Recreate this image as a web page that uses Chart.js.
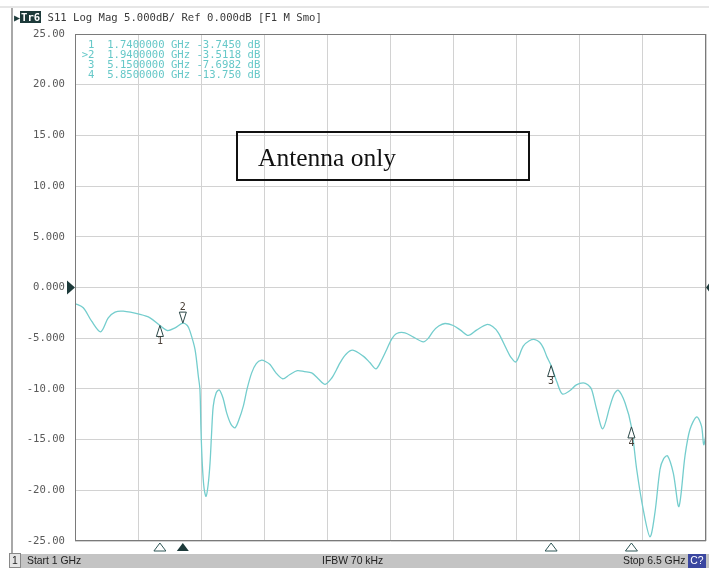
<!DOCTYPE html>
<html>
<head>
<meta charset="utf-8">
<script src="https://cdn.jsdelivr.net/npm/chart.js@4.4.1/dist/chart.umd.min.js"></script>
<style>
  body { margin: 0; background: #fff; width: 709px; height: 568px; overflow: hidden; position: relative; }
  #c { position: absolute; left: 0; top: 0; }
  .mono { position: absolute; font-family: 'DejaVu Sans Mono', monospace; font-size: 10.6px; white-space: pre; }
  #topline { position: absolute; left: 0; top: 6px; width: 709px; height: 2px; background: #e6e6e6; }
  #leftline { position: absolute; left: 11px; top: 8px; width: 2px; height: 546px; background: #a8a8a8; }
  #hdr { left: 14px; top: 11px; color: #3a3a3a; line-height: 13px; }
  #hdr .arr { font-size: 10px; color: #1d3a3a; }
  #hdr .tr { background: #1d3a3a; color: #fff; padding: 0 1px; font-weight: bold; }
  #mk { left: 81.7px; top: 38.5px; color: #66c8c8; line-height: 10.2px; }
  #note { position: absolute; left: 236px; top: 131px; width: 290px; height: 46px; border: 2px solid #111;
          font-family: 'Liberation Serif', 'Times New Roman', serif; font-size: 25.5px; color: #111; }
  #note span { position: absolute; left: 20px; top: 10px; }
  #bar { position: absolute; left: 9px; top: 554px; width: 700px; height: 14px; background: #c4c4c4;
         font-family: 'Liberation Sans', Arial, sans-serif; font-size: 10.4px; color: #222; line-height: 14px; }
  #bar span { position: absolute; top: 0; }
  #bar .ch { left: 0; width: 10px; height: 13px; background: #e4e4e4; border: 1px solid #888; text-align: center; line-height: 13px; top: -1px; }
  #bar .cal { left: 679px; width: 18px; height: 14px; background: #3b47a0; color: #fff; text-align: center; }
</style>
</head>
<body>
<canvas id="c" width="709" height="568"></canvas>
<div id="topline"></div>
<div id="leftline"></div>
<div id="hdr" class="mono"><span class="arr">&#9654;</span><span class="tr">Tr6</span> S11 Log Mag 5.000dB/ Ref 0.000dB [F1 M Smo]</div>
<div id="mk" class="mono"></div>
<div id="note"><span>Antenna only</span></div>
<div id="bar">
  <span class="ch">1</span>
  <span style="left:18px">Start 1 GHz</span>
  <span style="left:313px">IFBW 70 kHz</span>
  <span style="left:614px">Stop 6.5 GHz</span>
  <span class="cal">C?</span>
</div>
<script>
// S11 trace (GHz, dB)
const freqGHz = [1.000, 1.072, 1.145, 1.224, 1.290, 1.349, 1.421, 1.567, 1.654, 1.740, 1.805, 1.872, 1.940, 1.979,
  2.002, 2.046, 2.075, 2.089, 2.098, 2.110, 2.125, 2.142, 2.160, 2.177, 2.190, 2.205, 2.230, 2.258, 2.290, 2.322,
  2.360, 2.395, 2.430, 2.467, 2.500, 2.540, 2.580, 2.627, 2.660, 2.700, 2.750, 2.810, 2.870, 2.938, 3.000, 3.063,
  3.120, 3.180, 3.240, 3.280, 3.310, 3.360, 3.420, 3.513, 3.570, 3.624, 3.670, 3.717, 3.760, 3.804, 3.876, 3.950,
  4.036, 4.080, 4.123, 4.170, 4.225, 4.297, 4.360, 4.428, 4.500, 4.588, 4.640, 4.690, 4.763, 4.800, 4.844, 4.907,
  4.960, 5.009, 5.050, 5.082, 5.111, 5.150, 5.200, 5.248, 5.315, 5.370, 5.430, 5.470, 5.503, 5.547, 5.600, 5.663,
  5.700, 5.736, 5.794, 5.850, 5.896, 5.953, 6.012, 6.055, 6.099, 6.130, 6.165, 6.215, 6.264, 6.317, 6.360, 6.419,
  6.461, 6.480, 6.500];
const s11dB = [-1.58, -2.00, -3.32, -4.37, -3.00, -2.43, -2.34, -2.66, -2.99, -3.745, -4.24, -3.98, -3.51, -3.75,
  -4.30, -6.10, -8.75, -10.06, -14.0, -17.5, -19.8, -20.6, -19.5, -17.3, -14.5, -11.7, -10.4, -10.1, -10.9, -12.36,
  -13.5, -13.84, -13.0, -11.7, -10.0, -8.42, -7.50, -7.17, -7.30, -7.60, -8.40, -9.00, -8.60, -8.20, -8.30, -8.42,
  -9.00, -9.55, -8.90, -8.09, -7.43, -6.60, -6.18, -6.77, -7.40, -8.02, -7.20, -6.11, -5.10, -4.54, -4.47, -4.90,
  -5.36, -5.00, -4.30, -3.80, -3.55, -3.75, -4.20, -4.73, -4.20, -3.65, -3.85, -4.47, -6.11, -6.90, -7.33, -5.79,
  -5.25, -5.13, -5.40, -5.95, -6.77, -7.70, -9.30, -10.50, -10.16, -9.60, -9.40, -9.60, -10.06, -12.03, -13.94, -11.70,
  -10.50, -10.13, -11.37, -13.75, -17.95, -21.9, -24.59, -22.2, -17.95, -16.9, -16.6, -18.3, -21.6, -16.6, -14.0, -12.76,
  -13.68, -15.5, -14.5];

const markerFreqGHz = [1.74, 1.94, 5.15, 5.85];
const markerDb = [-3.745, -3.5118, -7.6982, -13.75];
const activeMarker = 1;

const xGridGHz = [1, 1.55, 2.1, 2.65, 3.2, 3.75, 4.3, 4.85, 5.4, 5.95, 6.5];
const yTickLabels = ['-25.00', '-20.00', '-15.00', '-10.00', '-5.000', '0.000', '5.000', '10.00', '15.00', '20.00', '25.00'];
const refLevelDb = 0;

// marker readout table
document.getElementById('mk').textContent = markerFreqGHz.map((f, i) =>
  (i === activeMarker ? '>' : ' ') + (i + 1) + '  ' + f.toFixed(7) + ' GHz ' + markerDb[i].toPrecision(5) + ' dB'
).join('\n');

const dark = '#1d3a3a';

const vnaMarks = {
  id: 'vnaMarks',
  afterDraw(chart) {
    const ctx = chart.ctx;
    const a = chart.chartArea;
    const xs = chart.scales.x, ys = chart.scales.y;
    ctx.save();
    ctx.strokeStyle = '#7a7a7a';
    ctx.lineWidth = 1;
    ctx.strokeRect(a.left + 0.5, a.top + 0.5, a.right - a.left - 1, a.bottom - a.top - 1);

    // reference level arrows
    const yr = ys.getPixelForValue(refLevelDb);
    ctx.fillStyle = dark;
    ctx.beginPath();
    ctx.moveTo(a.left - 8, yr - 7); ctx.lineTo(a.left, yr); ctx.lineTo(a.left - 8, yr + 7); ctx.closePath();
    ctx.fill();
    ctx.beginPath();
    ctx.moveTo(a.right + 3, yr - 4); ctx.lineTo(a.right, yr); ctx.lineTo(a.right + 3, yr + 4); ctx.closePath();
    ctx.fill();

    ctx.font = '10px "DejaVu Sans Mono", monospace';
    ctx.textAlign = 'center';
    ctx.textBaseline = 'middle';
    markerFreqGHz.forEach((f, i) => {
      const x = xs.getPixelForValue(f);
      const y = ys.getPixelForValue(markerDb[i]);
      ctx.strokeStyle = '#2a4646';
      ctx.fillStyle = '#fff';
      ctx.lineWidth = 1;
      ctx.beginPath();
      if (i === activeMarker) {
        ctx.moveTo(x, y); ctx.lineTo(x - 3.5, y - 11); ctx.lineTo(x + 3.5, y - 11);
      } else {
        ctx.moveTo(x, y); ctx.lineTo(x - 3.5, y + 11); ctx.lineTo(x + 3.5, y + 11);
      }
      ctx.closePath();
      ctx.fill(); ctx.stroke();
      ctx.fillStyle = '#4a4038';
      ctx.fillText(String(i + 1), x, i === activeMarker ? y - 16 : y + 16);

      // stimulus markers under the grid
      const yb = a.bottom + 2;
      ctx.beginPath();
      ctx.moveTo(x, yb); ctx.lineTo(x - 6, yb + 8); ctx.lineTo(x + 6, yb + 8); ctx.closePath();
      if (i === activeMarker) {
        ctx.fillStyle = dark; ctx.fill();
      } else {
        ctx.strokeStyle = '#2f5656'; ctx.stroke();
      }
    });
    ctx.restore();
  }
};

new Chart(document.getElementById('c'), {
  type: 'scatter',
  data: {
    datasets: [{
      data: freqGHz.map((f, i) => ({ x: f, y: s11dB[i] })),
      showLine: true,
      borderColor: '#74cdcd',
      borderWidth: 1.3,
      pointRadius: 0,
      tension: 0.3
    }]
  },
  options: {
    responsive: false,
    animation: false,
    layout: { padding: { top: 34, right: 3, bottom: 27, left: 0 } },
    plugins: { legend: { display: false }, tooltip: { enabled: false } },
    scales: {
      x: {
        type: 'linear', min: 1, max: 6.5,
        afterBuildTicks: s => { s.ticks = xGridGHz.map(v => ({ value: v })); },
        afterFit: s => { s.height = 0; },
        ticks: { display: false },
        grid: { color: '#d2d2d2', lineWidth: 1, drawTicks: false },
        border: { display: false }
      },
      y: {
        min: -25, max: 25,
        afterFit: s => { s.width = 75; },
        ticks: {
          stepSize: 5,
          padding: 10,
          color: '#5a5a5a',
          font: { family: 'DejaVu Sans Mono', size: 10.6 },
          callback: v => yTickLabels[Math.round((v + 25) / 5)]
        },
        grid: { color: '#d2d2d2', lineWidth: 1, drawTicks: false },
        border: { display: false }
      }
    }
  },
  plugins: [vnaMarks]
});
</script>
</body>
</html>
